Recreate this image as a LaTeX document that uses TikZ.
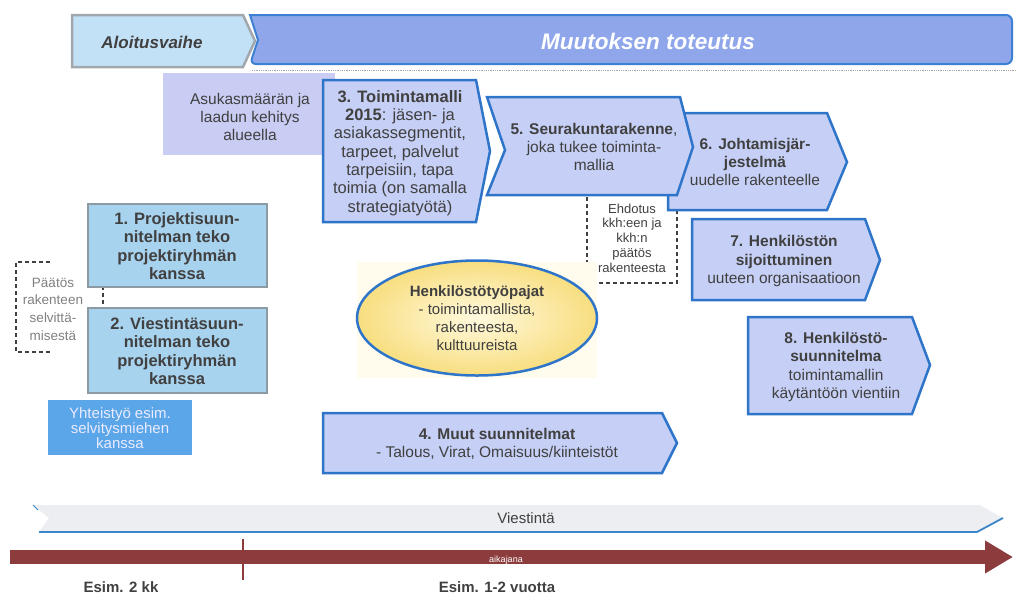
\documentclass[tikz,border=0pt]{standalone}
\usepackage{fontspec}
\setmainfont{Liberation Sans}
\usepackage{tikz}
\usetikzlibrary{arrows.meta}
\usetikzlibrary{shapes.geometric, positioning}
\usepackage{xcolor}
\definecolor{boxblue}{RGB}{46,117,201}
\definecolor{boxfill}{RGB}{198,207,245}
\definecolor{planfill}{RGB}{168,211,239}
\definecolor{planedge}{RGB}{140,154,163}
\definecolor{coopfill}{RGB}{91,166,232}
\definecolor{asukasfill}{RGB}{201,205,243}
\definecolor{textgray}{RGB}{64,64,64}
\definecolor{startfill}{RGB}{195,225,246}
\definecolor{startedge}{RGB}{160,168,174}
\definecolor{changefill}{RGB}{143,167,234}
\definecolor{changeedge}{RGB}{59,128,211}
\definecolor{timelinered}{RGB}{140,60,60}
\definecolor{bandfill}{RGB}{236,238,242}
\definecolor{bandedge}{RGB}{58,134,200}
\definecolor{glowyellow}{RGB}{255,252,238}
\definecolor{pajainner}{RGB}{255,249,222}
\definecolor{pajaouter}{RGB}{248,222,128}
\newcommand{\boxfont}{\fontsize{15.5}{18.3}\selectfont}
\newcommand{\notefont}{\fontsize{13}{14.7}\selectfont}
\tikzstyle{every node} = [inner sep=0]
\tikzstyle{stepbox} = [draw=boxblue, line width=2.5pt, fill=boxfill]
\tikzstyle{planbox} = [draw=planedge, line width=2.5pt, fill=planfill]
\tikzstyle{boxtext} = [text=textgray, align=center, font=\boxfont]
\tikzstyle{decision} = [draw=textgray, line width=1.4pt, dash pattern=on 4pt off 3pt]

\begin{document}
\begin{tikzpicture}[x=1pt, y=-1pt]
            \useasboundingbox (0, 0) rectangle (1017, 595);

            % Phase banner
            \draw[draw=startedge, fill=startfill, line width=2.5pt] (72, 15) -- (243, 15) -- (255, 41) -- (243, 67) -- (72, 67) -- cycle;
            \draw[draw=changeedge, fill=changefill, line width=2pt, rounded corners=6pt] (250, 15) -- (1012, 15) -- (1012, 64) -- (250, 64) [sharp corners] -- (258, 40) -- cycle;
            \draw[gray!70, densely dotted, line width=0.8pt] (252, 70) -- (1017, 70);
            \node[font=\fontsize{17}{20}\selectfont\bfseries\itshape, text=textgray] (start) at (152, 42) {Aloitusvaihe};
            \node[font=\fontsize{22.5}{26}\selectfont\bfseries\itshape, text=white] (change) at (648, 41) {Muutoksen toteutus};

            % Background boxes
            \fill[asukasfill] (163, 73) rectangle (335, 155);
            \draw[decision] (587, 190) -- (587, 283) -- (677, 283) -- (677, 205);
            \draw[decision] (50, 262) -- (16, 262) -- (16, 352) -- (50, 352);
            \draw[decision] (95, 287) -- (103, 287) -- (103, 308) -- (95, 308);

            % Step shapes
            \draw[stepbox] (668, 113) -- (827, 113) -- (847, 162) -- (827, 210) -- (668, 210) -- cycle;
            \draw[stepbox] (487, 97) -- (680, 97) -- (693, 147) -- (677, 195) -- (487, 195) -- (505, 150) -- cycle;
            \draw[stepbox] (323, 80) -- (476, 80) -- (490, 151) -- (476, 222) -- (323, 222) -- cycle;
            \draw[stepbox] (692, 219) -- (865, 219) -- (880, 260) -- (865, 300) -- (692, 300) -- cycle;
            \draw[stepbox] (748, 317) -- (912, 317) -- (930, 365) -- (912, 414) -- (748, 414) -- cycle;
            \draw[stepbox] (323, 413) -- (662, 413) -- (677, 443) -- (662, 473) -- (323, 473) -- cycle;
            \draw[planbox] (88, 204) rectangle (267, 287);
            \draw[planbox] (88, 308) rectangle (267, 393);
            \fill[coopfill] (48, 400) rectangle (192, 455);
            \fill[glowyellow] (357, 262) rectangle (597, 378);

            % Nodes
            \node[boxtext] (asukas) at (250, 117) {Asukasmäärän ja\\laadun kehitys\\alueella};
            \node[boxtext, font=\fontsize{16.5}{18.3}\selectfont] (toiminta) at (400, 153) {\textbf{3. Toimintamalli}\\\textbf{2015}: jäsen- ja\\asiakassegmentit,\\tarpeet, palvelut\\tarpeisiin, tapa\\toimia (on samalla\\strategiatyötä)};
            \node[boxtext] (rakenne) at (594, 147) {\textbf{5. Seurakuntarakenne},\\joka tukee toiminta-\\mallia};
            \node[boxtext] (johtaminen) at (755, 162) {\textbf{6. Johtamisjär-}\\\textbf{jestelmä}\\uudelle rakenteelle};
            \node[boxtext, font=\notefont] (ehdotus) at (632, 238) {Ehdotus\\kkh:een ja\\kkh:n\\päätös\\rakenteesta};
            \node[boxtext] (sijoitus) at (784, 261) {\textbf{7. Henkilöstön}\\\textbf{sijoittuminen}\\uuteen organisaatioon};
            \node[boxtext] (hlosuun) at (836, 367) {\textbf{8. Henkilöstö-}\\\textbf{suunnitelma}\\toimintamallin\\käytäntöön vientiin};
            \node[boxtext, font=\fontsize{16.5}{18.3}\selectfont\bfseries] (projekti) at (177, 246) {1. Projektisuun-\\nitelman teko\\projektiryhmän\\kanssa};
            \node[boxtext, font=\fontsize{16.5}{18.3}\selectfont\bfseries] (viestsuun) at (177, 351) {2. Viestintäsuun-\\nitelman teko\\projektiryhmän\\kanssa};
            \node[boxtext, font=\fontsize{13.5}{17.7}\selectfont, text=gray] (paatos) at (53, 309) {Päätös\\rakenteen\\selvittä-\\misestä};
            \node[boxtext, font=\fontsize{15}{14.8}\selectfont, text=white!92!blue] (yhteistyo) at (120, 428) {Yhteistyö esim.\\selvitysmiehen\\kanssa};
            \node[boxtext, ellipse, draw=boxblue, line width=2.5pt, inner color=pajainner, outer color=pajaouter, minimum width=240pt, minimum height=115pt, font=\fontsize{15}{18}\selectfont] (pajat) at (477, 318) {\textbf{Henkilöstötyöpajat}\\- toimintamallista,\\rakenteesta,\\kulttuureista};
            \node[boxtext] (muut) at (497, 444) {\textbf{4. Muut suunnitelmat}\\- Talous, Virat, Omaisuus/kiinteistöt};

            % Communication band
            \fill[bandfill] (33, 505) -- (980, 505) -- (1003, 518) -- (977, 532) -- (39, 532) -- (49, 518) -- cycle;
            \draw[bandedge, line width=1.8pt] (39, 532) -- (977, 532) -- (1003, 518);
            \draw[bandedge, line width=1pt] (33, 505) -- (38, 510);
            \node[boxtext, font=\fontsize{15}{18}\selectfont] (viestinta) at (526, 518) {Viestintä};

            % Time line
            \coordinate (alku) at (10, 557);
            \coordinate (loppu) at (1013, 557);
            \coordinate (rajaylä) at (243, 539);
            \coordinate (rajaala) at (243, 580);
            \draw[timelinered, line width=14pt, -{Triangle[length=28pt, width=31pt]}] (alku) -- (loppu);
            \draw[timelinered, line width=2pt] (rajaylä) -- (rajaala);
            \node[text=white, font=\fontsize{9}{10}\selectfont] (aikajana) at (506, 560) {aikajana};
            \node[text=textgray, font=\fontsize{15}{18}\selectfont\bfseries] (lyhyt) at (121, 587) {Esim. 2 kk};
            \node[text=textgray, font=\fontsize{15}{18}\selectfont\bfseries] (pitka) at (497, 587) {Esim. 1-2 vuotta};
        \end{tikzpicture}
\end{document}
